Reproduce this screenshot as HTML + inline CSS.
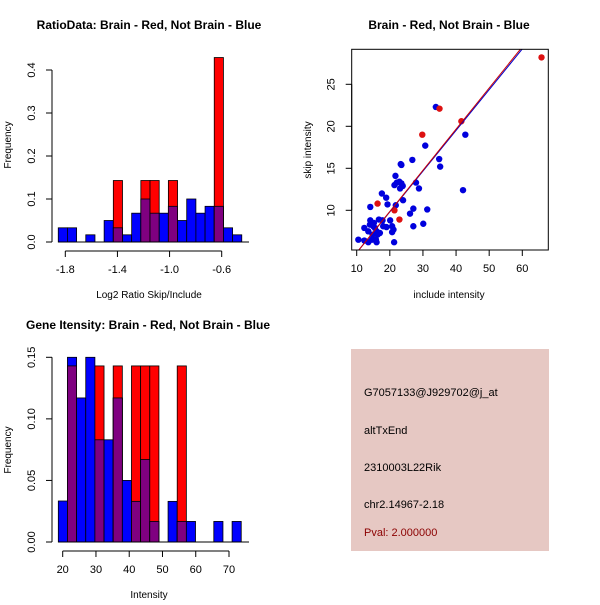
<!DOCTYPE html>
<html><head><meta charset="utf-8"><style>
body{margin:0;background:#fff;}
svg text{font-family:"Liberation Sans",sans-serif;}
</style></head><body>
<svg id="s" width="600" height="600" viewBox="0 0 600 600" xmlns="http://www.w3.org/2000/svg">
<rect width="600" height="600" fill="#fff"/>
<g id="p1"></g>
<g id="p2"></g>
<g id="p3"></g>
<g>
<rect x="351" y="349" width="198" height="202" fill="#e6c8c3"/>
<text x="364" y="396" font-size="11">G7057133@J929702@j_at</text>
<text x="364" y="434" font-size="11">altTxEnd</text>
<text x="364" y="471" font-size="11">2310003L22Rik</text>
<text x="364" y="508" font-size="11">chr2.14967-2.18</text>
<text x="364" y="536" font-size="11" fill="#8b0000">Pval: 2.000000</text>
</g>
</svg>
<script>
// ---- Panel 1 data ----
const ratioBinStart = -1.854;
const ratioBinWidth = 0.0704;
const ratioBlue = [0.033,0.033,0,0.0167,0,0.05,0.033,0.0167,0.067,0.1,0.067,0.067,0.083,0.05,0.1,0.067,0.083,0.083,0.033,0.0167];
const ratioRed  = [0,0,0,0,0,0,0.143,0,0,0.143,0.143,0,0.143,0,0,0,0,0.429,0,0];
const ratioXTicks = [-1.8,-1.4,-1.0,-0.6];
const ratioXTickLabels = ["-1.8","-1.4","-1.0","-0.6"];
const ratioYTicks = [0,0.1,0.2,0.3,0.4];
const ratioYTickLabels = ["0.0","0.1","0.2","0.3","0.4"];
// ---- Panel 3 data ----
const intBinStart = 18.68;
const intBinWidth = 2.75;
const intBlue = [0.0333,0.15,0.117,0.15,0.083,0.083,0.117,0.05,0.033,0.067,0.0167,0,0.033,0.0167,0.0167,0,0,0.0167,0,0.0167];
const intRed  = [0,0.143,0,0,0.143,0,0.143,0,0.143,0.143,0.143,0,0,0.143,0,0,0,0,0,0];
const intXTicks = [20,30,40,50,60,70];
const intXTickLabels = ["20","30","40","50","60","70"];
const intYTicks = [0,0.05,0.1,0.15];
const intYTickLabels = ["0.00","0.05","0.10","0.15"];
// ---- Panel 2 data ----
const redX = [16.3,21.4,22.9,29.8,35,41.6,65.8];
const redY = [10.8,10.0,8.9,19.0,22.1,20.6,28.2];
const blueX = [10.5,12.3,12.3,13.5,13.5,14,14.1,14.1,14.6,14.8,15,15.2,15.5,15.8,16,16,16.3,16.7,17,17.6,17.8,18,18.9,19,19.3,20.1,20.7,20.7,21.1,21.3,21.4,21.7,21.8,22.1,22.9,23.1,23.3,23.5,23.5,23.9,24,26.1,26.8,27.1,27.1,27.9,28.8,30.1,30.7,31.3,33.9,34.9,35.2,42.1,42.8];
const blueY = [6.5,6.4,7.9,7.5,6.2,8.3,8.8,10.4,6.5,7.1,8.1,8.5,7.9,6.5,7.5,6.2,7.1,8.9,7.3,12.0,8.8,8.1,11.5,8.0,10.7,8.8,8.1,7.4,7.7,6.2,13.0,14.1,10.6,13.3,13.4,12.6,15.5,15.4,13.2,12.9,11.2,9.6,16.0,10.2,8.1,13.3,12.6,8.4,17.7,10.1,22.3,16.1,15.2,12.4,19.0];
const fitRed = [0.06,0.49];   // intercept, slope
const fitBlue = [0.11,0.485];
const scXTicks = [10,20,30,40,50,60];
const scXTickLabels = ["10","20","30","40","50","60"];
const scYTicks = [10,15,20,25];
const scYTickLabels = ["10","15","20","25"];

const NS="http://www.w3.org/2000/svg";
function mk(parent,tag,attrs,text){const e=document.createElementNS(NS,tag);for(const k in attrs)e.setAttribute(k,attrs[k]);if(text!==undefined)e.textContent=text;parent.appendChild(e);return e;}
function lin(d0,d1,p0,p1){return v=>p0+(v-d0)*(p1-p0)/(d1-d0);}

function axes(g,xs,ys,xT,xL,yT,yL,xAxisY,yAxisX,prefix){
  let e=mk(g,'line',{x1:xs(xT[0]),x2:xs(xT[xT.length-1]),y1:xAxisY,y2:xAxisY,stroke:'#000'});
  
  
  xT.forEach((t,i)=>{
    mk(g,'line',{x1:xs(t),x2:xs(t),y1:xAxisY,y2:xAxisY+6,stroke:'#000'});
    e=mk(g,'text',{x:xs(t),y:xAxisY+22,'font-size':11,'text-anchor':'middle'},xL[i]);
    
    
  });
  e=mk(g,'line',{x1:yAxisX,x2:yAxisX,y1:ys(yT[0]),y2:ys(yT[yT.length-1]),stroke:'#000'});
  
  
  yT.forEach((t,i)=>{
    mk(g,'line',{x1:yAxisX-6,x2:yAxisX,y1:ys(t),y2:ys(t),stroke:'#000'});
    const x=yAxisX-17,y=ys(t);
    e=mk(g,'text',{x:x,y:y,'font-size':11,'text-anchor':'middle',transform:`rotate(-90 ${x} ${y})`},yL[i]);
    
    
  });
}

function hist(g,start,w,blue,red,xs,ys,prefix){
  for(let i=0;i<blue.length;i++){
    const x0=xs(start+i*w),x1=xs(start+(i+1)*w);
    const b=blue[i],r=red[i],lo=Math.min(b,r);
    if(b>0){const e=mk(g,'rect',{x:x0,y:ys(b),width:x1-x0,height:ys(0)-ys(b),fill:'#0000ff',stroke:'#000','stroke-width':0.8});
      
      }
    if(r>0){const e=mk(g,'rect',{x:x0,y:ys(r),width:x1-x0,height:ys(0)-ys(r),fill:'#ff0000',stroke:'#000','stroke-width':0.8});
      
      }
    if(lo>0&&b>0&&r>0){const e=mk(g,'rect',{x:x0,y:ys(lo),width:x1-x0,height:ys(0)-ys(lo),fill:'#7f0080',stroke:'#000','stroke-width':0.8});
      
      }
  }
}

// Panel 1
(function(){
  const g=document.getElementById('p1');
  const xs=lin(-1.8,-0.6,65.3,221.7), ys=lin(0,0.4,242,70);
  hist(g,ratioBinStart,ratioBinWidth,ratioBlue,ratioRed,xs,ys,'ratio');
  axes(g,xs,ys,ratioXTicks,ratioXTickLabels,ratioYTicks,ratioYTickLabels,251,52,'ratio');
  mk(g,'line',{x1:58,x2:249,y1:242,y2:242,stroke:'#000'});
  let e=mk(g,'text',{x:149,y:29,'font-size':12,'font-weight':'bold','text-anchor':'middle'},'RatioData: Brain - Red, Not Brain - Blue');
  
  
  e=mk(g,'text',{x:149,y:298,'font-size':10,'text-anchor':'middle'},'Log2 Ratio Skip/Include');
  
  
  e=mk(g,'text',{x:11,y:145,'font-size':10,'text-anchor':'middle',transform:'rotate(-90 11 145)'},'Frequency');
  
  
})();

// Panel 3
(function(){
  const g=document.getElementById('p3');
  const xs=lin(20,70,62.7,229), ys=lin(0,0.15,542,357.3);
  hist(g,intBinStart,intBinWidth,intBlue,intRed,xs,ys,'intensity');
  axes(g,xs,ys,intXTicks,intXTickLabels,intYTicks,intYTickLabels,551,52,'intensity');
  mk(g,'line',{x1:58,x2:249,y1:542,y2:542,stroke:'#000'});
  let e=mk(g,'text',{x:148,y:329,'font-size':12,'font-weight':'bold','text-anchor':'middle'},'Gene Itensity: Brain - Red, Not Brain - Blue');
  
  
  e=mk(g,'text',{x:149,y:598,'font-size':10,'text-anchor':'middle'},'Intensity');
  
  
  e=mk(g,'text',{x:11,y:450,'font-size':10,'text-anchor':'middle',transform:'rotate(-90 11 450)'},'Frequency');
  
  
})();

// Panel 2
(function(){
  const g=document.getElementById('p2');
  const xs=lin(10,60,356.7,522.3), ys=lin(10,25,210.3,84.3);
  const L=351.7,R=548.3,T=49.3,B=250;
  mk(g,'clipPath',{id:'clip2'}).appendChild((()=>{const r=document.createElementNS(NS,'rect');r.setAttribute('x',L);r.setAttribute('y',T);r.setAttribute('width',R-L);r.setAttribute('height',B-T);return r;})());
  for(let i=0;i<blueX.length;i++){
    const e=mk(g,'circle',{cx:xs(blueX[i]),cy:ys(blueY[i]),r:3.2,fill:'#0000dd'});
    
    
  }
  for(let i=0;i<redX.length;i++){
    const e=mk(g,'circle',{cx:xs(redX[i]),cy:ys(redY[i]),r:3.2,fill:'#dd1111'});
    
    
  }
  [[fitBlue,'#0000cc','blue-fit-line'],[fitRed,'#cc0000','red-fit-line']].forEach(([f,c,n])=>{
    const e=mk(g,'line',{x1:xs(0),y1:ys(f[0]),x2:xs(80),y2:ys(f[0]+f[1]*80),stroke:c,'stroke-width':1,'clip-path':'url(#clip2)'});
    
    
  });
  let e=mk(g,'rect',{x:L,y:T,width:R-L,height:B-T,fill:'none',stroke:'#000'});
  
  
  axes(g,xs,ys,scXTicks,scXTickLabels,scYTicks,scYTickLabels,B,L,'scatter');
  e=mk(g,'text',{x:449,y:29,'font-size':12,'font-weight':'bold','text-anchor':'middle'},'Brain - Red, Not Brain - Blue');
  
  
  e=mk(g,'text',{x:449,y:298,'font-size':10,'text-anchor':'middle'},'include intensity');
  
  
  e=mk(g,'text',{x:311,y:150,'font-size':10,'text-anchor':'middle',transform:'rotate(-90 311 150)'},'skip intensity');
  
  
})();
</script>
</body></html>
